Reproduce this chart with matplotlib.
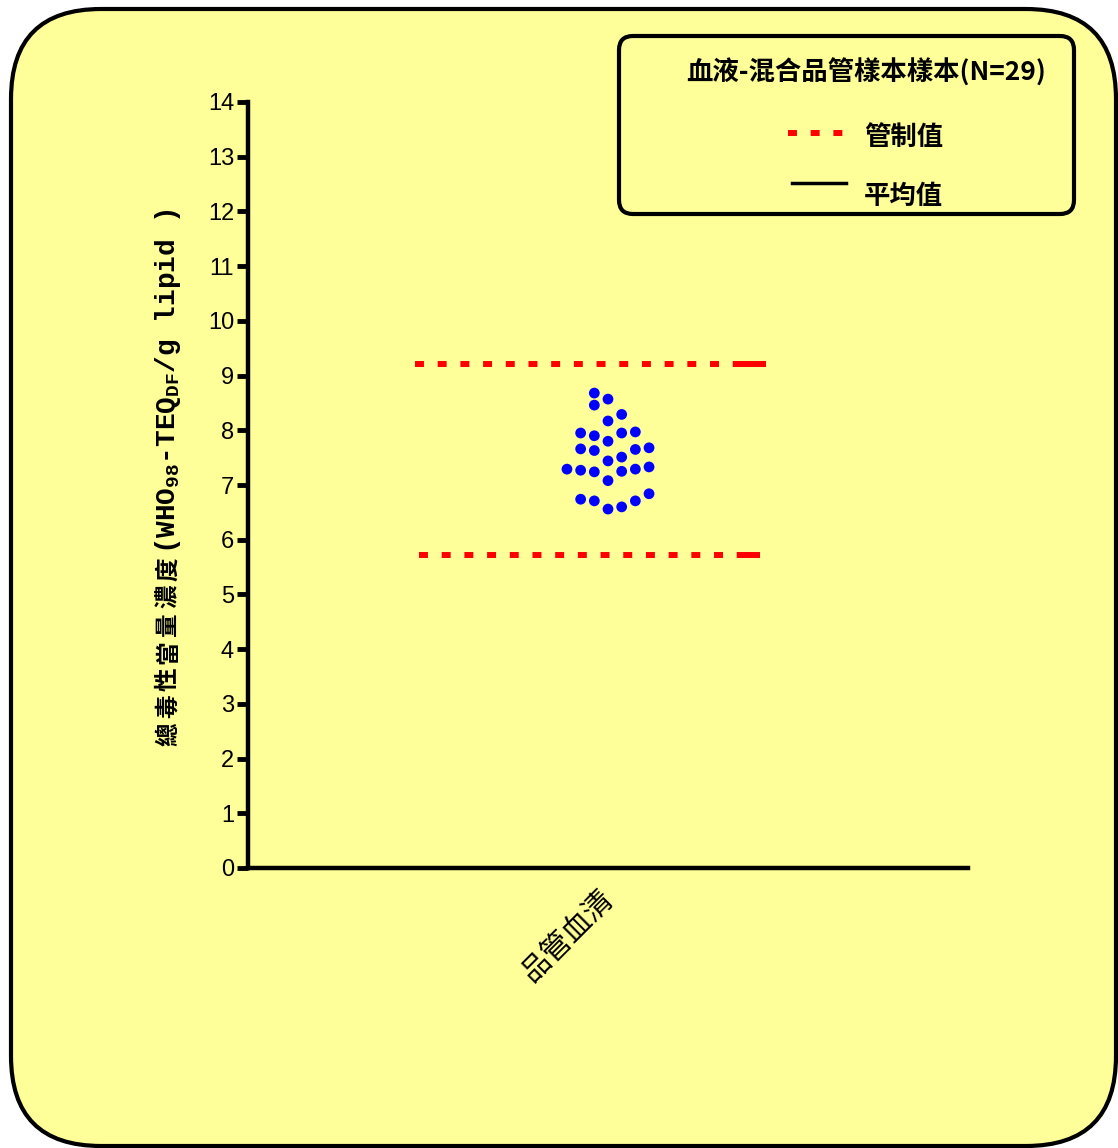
import numpy as np
import matplotlib
matplotlib.use("Agg")
import matplotlib.pyplot as plt
from matplotlib.patches import FancyBboxPatch
from matplotlib.lines import Line2D
from matplotlib.transforms import ScaledTranslation

# ================= DATA ================= #
CATEGORY = "品管血清"
# dot values (TEQ) and the column each dot sits in (scatter spread)
VALUES = [7.29,
          7.95, 7.66, 7.27, 6.74,
          8.68, 8.46, 7.90, 7.63, 7.24, 6.71,
          8.57, 8.17, 7.80, 7.44, 7.08, 6.56,
          8.29, 7.95, 7.51, 7.25, 6.60,
          7.97, 7.65, 7.29, 6.71,
          7.68, 7.33, 6.84]
COLUMNS = [-3,
           -2, -2, -2, -2,
           -1, -1, -1, -1, -1, -1,
           0, 0, 0, 0, 0, 0,
           1, 1, 1, 1, 1,
           2, 2, 2, 2,
           3, 3, 3]
UPPER_LIMIT = 9.22
LOWER_LIMIT = 5.72
YTICKS = list(range(0, 15))

LEGEND_TITLE = "血液-混合品管樣本樣本(N=29)"
LEGEND_LABELS = ["管制值", "平均值"]
# y label in two pieces: CJK part, latin part (with subscripts)
YLABEL_CJK = "總毒性當量濃度"
YLABEL_LATIN = r"(WHO$_{98}$-TEQ$_{DF}$/g lipid )"

# ================= STYLE ================= #
BG = "#FFFF99"
CJK = "Noto Sans CJK TC"
MONO = "Liberation Mono"
W, H = 1118, 1148

plt.rcParams["mathtext.fontset"] = "custom"
plt.rcParams["mathtext.rm"] = "Liberation Mono:bold"
plt.rcParams["mathtext.it"] = "Liberation Mono:bold"
plt.rcParams["mathtext.bf"] = "Liberation Mono:bold"

fig = plt.figure(figsize=(W / 100, H / 100), dpi=100)
fig.patch.set_facecolor("white")

# rounded yellow panel
panel = FancyBboxPatch((0.11, 0.02), 11.05, 11.37,
                       boxstyle="round,pad=0,rounding_size=0.9",
                       transform=fig.dpi_scale_trans,
                       facecolor=BG, edgecolor="black", linewidth=3, zorder=0)
fig.add_artist(panel)

ax = fig.add_axes([248 / W, 1 - 868 / H, 720 / W, 766 / H])
ax.set_facecolor("none")

# ---- dots ----
spread = 0.038
x = 1 + np.array(COLUMNS) * spread
ax.scatter(x, VALUES, s=60, color="#0000FF", edgecolors="none", zorder=3)

# ---- control limits ----
dash = dict(color="#FF0000", linewidth=4.3, solid_capstyle="butt",
            dash_capstyle="butt")
ax.plot([0.464, 1.356], [UPPER_LIMIT] * 2, linestyle=(0, (1.5, 2.3)), **dash)
ax.plot([1.356, 1.440], [UPPER_LIMIT] * 2, linestyle="-", **dash)
ax.plot([0.475, 1.367], [LOWER_LIMIT] * 2, linestyle=(0, (1.5, 2.3)), **dash)
ax.plot([1.367, 1.422], [LOWER_LIMIT] * 2, linestyle="-", **dash)

# ---- axes ----
ax.set_xlim(0, 2)
ax.set_ylim(0, 14)
ax.set_yticks(YTICKS)
ax.set_yticklabels([str(t) for t in YTICKS], family="Liberation Sans",
                   fontsize=17)
ax.set_xticks([])
# category label, rotated under the axis
ax.text(1, 0, CATEGORY, rotation=45, ha="right", va="top",
        rotation_mode="anchor", family=CJK, fontsize=21, fontweight="light",
        transform=ax.get_xaxis_transform()
        + ScaledTranslation(-0.10, -0.16, fig.dpi_scale_trans))
ax.tick_params(axis="y", length=8, width=3.5, pad=2)
for s in ["top", "right"]:
    ax.spines[s].set_visible(False)
for s in ["left", "bottom"]:
    ax.spines[s].set_linewidth(3.2)

# ---- y label, stacked piece by piece ----
xb = 175 / W
ypos = H - 746
for ch in YLABEL_CJK:
    fig.text(xb, ypos / H, ch, rotation=90, rotation_mode="anchor",
             ha="left", va="baseline", family=CJK, fontweight="bold",
             fontsize=17)
    ypos += 27.5
fig.text(xb, ypos / H, YLABEL_LATIN, rotation=90, rotation_mode="anchor",
         ha="left", va="baseline", family=[MONO], fontweight="bold",
         fontsize=20)

# ---- legend box ----
lbox = FancyBboxPatch((6.19, 9.34), 4.55, 1.78,
                      boxstyle="round,pad=0,rounding_size=0.14",
                      transform=fig.dpi_scale_trans,
                      facecolor=BG, edgecolor="black", linewidth=3, zorder=1)
fig.add_artist(lbox)
fig.text(866 / W, 1 - 73 / H, LEGEND_TITLE, ha="center", va="center",
         family=[CJK], fontweight="bold", fontsize=19)
fig.add_artist(Line2D([788 / W, 843 / W], [1 - 133 / H] * 2,
                      transform=fig.transFigure, color="#FF0000", linewidth=4.3,
                      linestyle=(0, (1.5, 2.3)), dash_capstyle="butt"))
fig.add_artist(Line2D([792 / W, 846 / W], [1 - 183 / H] * 2,
                      transform=fig.transFigure, color="black", linewidth=2.5))
fig.text(864 / W, 1 - 137 / H, LEGEND_LABELS[0], ha="left", va="center",
         family=CJK, fontweight="bold", fontsize=19)
fig.text(864 / W, 1 - 196 / H, LEGEND_LABELS[1], ha="left", va="center",
         family=CJK, fontweight="bold", fontsize=19)

plt.savefig("out.png", dpi=100)
